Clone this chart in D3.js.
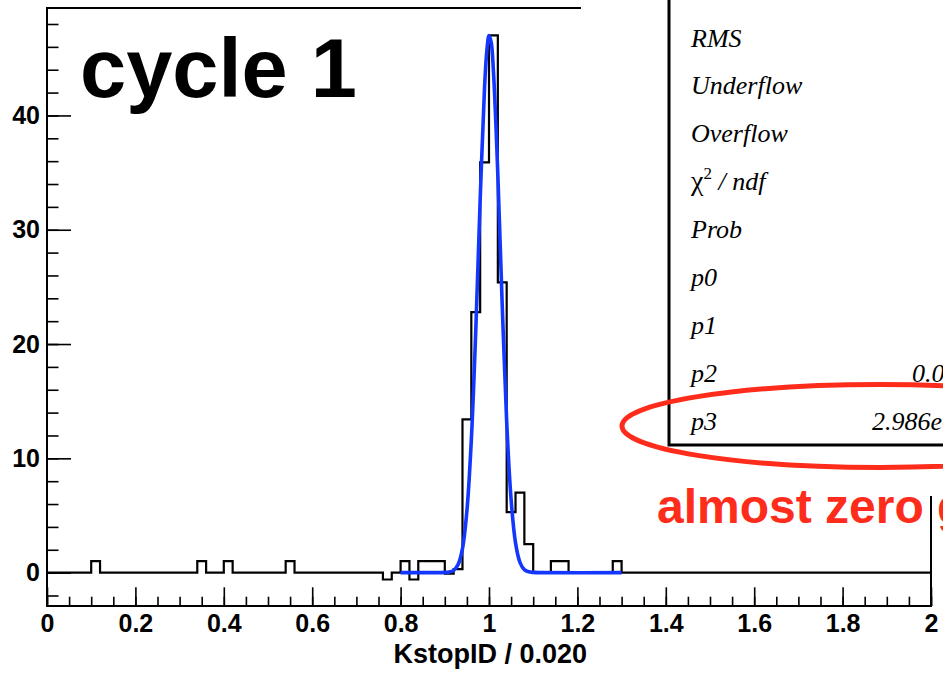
<!DOCTYPE html>
<html>
<head>
<meta charset="utf-8">
<script src="https://cdn.jsdelivr.net/npm/d3@7"></script>
<style>
  body { margin: 0; background: #fff; }
  svg { display: block; }
  .axis text { font-family: "Liberation Sans", Arial, sans-serif; font-weight: bold; font-size: 25px; fill: #000; }
  .axis line { stroke: #000; stroke-width: 1.6px; }
  .stat { font-family: "Liberation Serif", "Times New Roman", serif; font-style: italic; font-size: 26px; fill: #000; }
</style>
</head>
<body>
<div id="chart-container"></div>
<script>
// histogram: 100 bins of width 0.020 between 0 and 2, only the filled bins are listed
const nBins = 100;
const binWidth = 0.02;
const filledBinLow = [0.10, 0.34, 0.40, 0.54, 0.76, 0.80, 0.82, 0.84, 0.86, 0.88, 0.90, 0.92,
  0.94, 0.96, 0.98, 1.00, 1.02, 1.04, 1.06, 1.08, 1.14, 1.16, 1.28];
const filledBinValue = [1, 1, 1, 1, -0.6, 1, -0.6, 1, 1, 1, -0.1, 0.3,
  13.4, 22.8, 35.9, 47, 25.4, 5.3, 7.0, 2.5, 1, 1, 1];

// fitted curve (blue)
const fitX = [0.80, 0.88, 0.90, 0.91, 0.92, 0.93, 0.94, 0.95, 0.96, 0.97, 0.98, 0.99, 0.995,
  1.00, 1.005, 1.01, 1.02, 1.03, 1.04, 1.05, 1.06, 1.07, 1.08, 1.09, 1.10, 1.12, 1.30];
const fitY = [0, 0, 0.02, 0.06, 0.2, 0.7, 2.1, 5.4, 11.6, 21.1, 32.6, 42.5, 45.6,
  47, 46.4, 43.9, 34.8, 23.3, 13.2, 6.4, 2.6, 0.9, 0.26, 0.07, 0.02, 0, 0];

const xMajorTicks = [0, 0.2, 0.4, 0.6, 0.8, 1, 1.2, 1.4, 1.6, 1.8, 2];
const yMajorTicks = [0, 10, 20, 30, 40];

const statLabels = ["RMS", "Underflow", "Overflow", "chi2", "Prob", "p0", "p1", "p2", "p3"];
const statValues = ["", "", "", "", "", "", "", "0.02457 \u00b1 0.00098", "2.986e-13 \u00b1 0.0016"];

const W = 943, H = 673;
const frame = { left: 47, right: 931, top: 8, bottom: 606 };

const xScale = d3.scaleLinear().domain([0, 2]).range([frame.left, frame.right]);
const yScale = d3.scaleLinear().domain([-2.92, 49.4]).range([frame.bottom, frame.top]);

const svg = d3.select("#chart-container")
  .append("svg")
  .attr("width", W)
  .attr("height", H);

// build full bin list
const counts = new Array(nBins).fill(0);
filledBinLow.forEach((lo, i) => {
  counts[Math.round(lo / binWidth)] = filledBinValue[i];
});

// axes, ticks pointing into the frame
const fmt = d => String(+d.toFixed(2));

svg.append("g")
  .attr("class", "axis")
  .attr("transform", "translate(0," + frame.bottom + ")")
  .call(d3.axisBottom(xScale).tickValues(d3.range(0, 2.001, 0.05)).tickSize(-9.3).tickFormat(""))
  .call(g => g.select(".domain").remove());

svg.append("g")
  .attr("class", "axis")
  .attr("transform", "translate(0," + frame.bottom + ")")
  .call(d3.axisBottom(xScale).tickValues(xMajorTicks).tickSize(-18.7).tickPadding(8).tickFormat(fmt))
  .call(g => g.select(".domain").remove());

svg.append("g")
  .attr("class", "axis")
  .attr("transform", "translate(" + frame.left + ",0)")
  .call(d3.axisLeft(yScale).tickValues(d3.range(-2, 49, 2)).tickSize(-11.5).tickFormat(""))
  .call(g => g.select(".domain").remove());

svg.append("g")
  .attr("class", "axis")
  .attr("transform", "translate(" + frame.left + ",0)")
  .call(d3.axisLeft(yScale).tickValues(yMajorTicks).tickSize(-24).tickPadding(7).tickFormat(fmt))
  .call(g => g.select(".domain").remove());

// frame
svg.append("rect")
  .attr("x", frame.left)
  .attr("y", frame.top)
  .attr("width", frame.right - frame.left)
  .attr("height", frame.bottom - frame.top)
  .attr("fill", "none")
  .attr("stroke", "#000")
  .attr("stroke-width", 2);

// histogram outline
const histPoints = [];
counts.forEach((v, i) => {
  histPoints.push([i * binWidth, v]);
  histPoints.push([(i + 1) * binWidth, v]);
});
svg.append("path")
  .attr("d", d3.line().x(d => xScale(d[0])).y(d => yScale(d[1]))(histPoints))
  .attr("fill", "none")
  .attr("stroke", "#000")
  .attr("stroke-width", 2.2);

// fit
svg.append("path")
  .attr("d", d3.line().curve(d3.curveCatmullRom)
    .x((d, i) => xScale(fitX[i])).y(d => yScale(d))(fitY))
  .attr("fill", "none")
  .attr("stroke", "#1437ff")
  .attr("stroke-width", 3.6);

// x title
svg.append("text")
  .attr("x", 587)
  .attr("y", 663)
  .attr("text-anchor", "end")
  .attr("font-family", "Liberation Sans, Arial, sans-serif")
  .attr("font-weight", "bold")
  .attr("font-size", "27px")
  .text("KstopID / 0.020");

// cover for the pasted stats panel
svg.append("rect")
  .attr("x", 581)
  .attr("y", 0)
  .attr("width", W - 581)
  .attr("height", 496)
  .attr("fill", "#fff");

// stats box
svg.append("rect")
  .attr("x", 669)
  .attr("y", -20)
  .attr("width", 400)
  .attr("height", 465)
  .attr("fill", "#fff")
  .attr("stroke", "#000")
  .attr("stroke-width", 3);

const rowY = i => 46.5 + 47.9 * i;
statLabels.forEach((lab, i) => {
  const t = svg.append("text")
    .attr("class", "stat")
    .attr("x", 691)
    .attr("y", rowY(i));
  if (lab === "chi2") {
    t.append("tspan").attr("font-style", "normal").attr("font-size", "28px").text("\u03c7");
    t.append("tspan").attr("font-size", "17px").attr("font-style", "normal").attr("dy", -11).text("2");
    t.append("tspan").attr("dy", 11).text(" / ndf");
  } else {
    t.text(lab);
  }
});
const valueStart = { 7: 912, 8: 872 };
statValues.forEach((v, i) => {
  if (!v) return;
  svg.append("text")
    .attr("class", "stat")
    .attr("x", valueStart[i])
    .attr("y", rowY(i))
    .text(v);
});

// "cycle 1"
svg.append("text")
  .attr("x", 80)
  .attr("y", 97)
  .attr("font-family", "Liberation Sans, Arial, sans-serif")
  .attr("font-weight", "bold")
  .attr("font-size", "83px")
  .text("cycle 1");

// red annotation
svg.append("ellipse")
  .attr("cx", 880)
  .attr("cy", 426)
  .attr("rx", 258)
  .attr("ry", 41.5)
  .attr("fill", "none")
  .attr("stroke", "#fe2c1b")
  .attr("stroke-width", 5);

svg.append("text")
  .attr("x", 657)
  .attr("y", 523)
  .attr("font-family", "Liberation Sans, Arial, sans-serif")
  .attr("font-weight", "bold")
  .attr("font-size", "48px")
  .attr("fill", "#fe2c1b")
  .text("almost zero gaussian tail");
</script>
</body>
</html>
